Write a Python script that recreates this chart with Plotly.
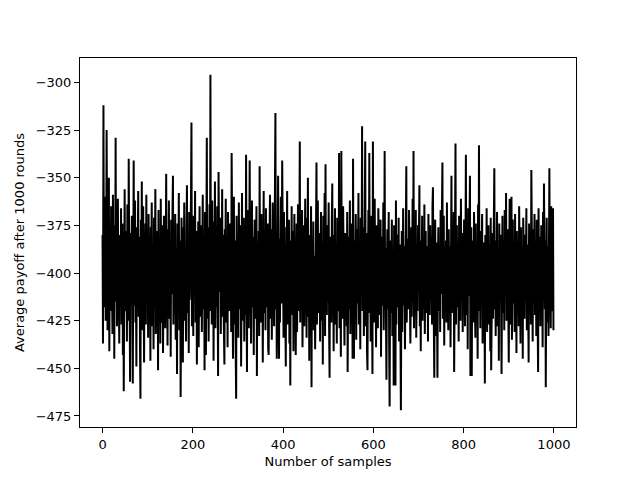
import plotly.graph_objects as go

# Average payoff per sample (approximate)
payoffs = [
    -380, -437, -312, -405, -392, -418, -360, -425, -398, -325, -372, -430, -385, -408, -350, -441, -396, -377, -420, -365,
    -402, -388, -432, -359, -410, -375, -445, -383, -398, -329, -415, -370, -428, -393, -361, -419, -404, -437, -380, -399,
    -412, -366, -427, -390, -374, -443, -401, -462, -385, -356, -420, -395, -409, -378, -436, -364, -400, -425, -340, -388,
    -414, -457, -379, -405, -393, -370, -431, -458, -398, -341, -417, -384, -362, -426, -402, -449, -376, -411, -390, -357,
    -423, -397, -381, -439, -466, -372, -408, -352, -430, -394, -365, -418, -447, -386, -401, -374, -427, -359, -412, -392,
    -380, -434, -369, -405, -421, -388, -446, -376, -399, -363, -428, -410, -385, -440, -371, -417, -395, -356, -432, -404,
    -378, -413, -389, -451, -367, -422, -400, -383, -437, -361, -409, -394, -426, -375, -442, -398, -370, -415, -386, -429,
    -403, -348, -419, -391, -438, -377, -406, -362, -424, -397, -384, -444, -372, -411, -399, -366, -349, -427, -393, -380,
    -416, -369, -435, -401, -387, -453, -374, -420, -396, -358, -430, -408, -383, -465, -391, -371, -418, -402, -447, -376,
    -399, -363, -425, -388, -412, -436, -379, -354, -421, -405, -390, -442, -368, -414, -397, -381, -360, -321, -428, -406,
    -384, -433, -370, -409, -395, -357, -426, -400, -378, -448, -392, -417, -373, -439, -402, -365, -423, -389, -411, -375,
    -431, -396, -359, -419, -404, -382, -451, -368, -413, -443, -387, -329, -424, -399, -376, -436, -408, -364, -420, -296,
    -405, -381, -427, -362, -414, -390, -446, -373, -401, -352, -429, -394, -378, -418, -365, -438, -454, -347, -386, -410,
    -399, -371, -432, -389, -407, -356, -423, -380, -415, -444, -448, -377, -402, -361, -426, -393, -384, -439, -368, -411,
    -397, -420, -374, -404, -388, -431, -337, -412, -379, -445, -395, -360, -427, -406, -383, -441, -466, -370, -416, -398,
    -385, -434, -363, -408, -392, -419, -375, -449, -401, -358, -425, -388, -412, -371, -436, -397, -380, -422, -338, -404,
    -452, -367, -415, -390, -429, -376, -341, -403, -386, -437, -399, -362, -418, -408, -381, -443, -393, -372, -424, -396,
    -410, -365, -454, -387, -420, -400, -378, -433, -344, -414, -391, -426, -369, -405, -384, -447, -398, -357, -421, -395,
    -380, -430, -366, -411, -393, -418, -374, -440, -443, -402, -388, -359, -424, -406, -377, -435, -396, -363, -413, -389,
    -428, -401, -371, -316, -419, -385, -445, -397, -367, -349, -410, -445, -382, -426, -398, -360, -416, -392, -341, -405,
    -379, -434, -368, -412, -394, -421, -449, -376, -403, -357, -427, -390, -414, -372, -437, -399, -459, -383, -409, -365,
    -422, -396, -378, -441, -401, -369, -418, -386, -443, -407, -374, -431, -392, -364, -420, -403, -384, -331, -426, -397,
    -381, -413, -367, -439, -395, -409, -375, -428, -400, -361, -417, -389, -434, -371, -406, -350, -423, -392, -446, -380,
    -411, -398, -365, -460, -384, -419, -402, -373, -430, -391, -408, -440, -377, -415, -342, -427, -396, -362, -421, -388,
    -404, -379, -436, -393, -368, -425, -401, -384, -448, -370, -412, -397, -358, -433, -343, -409, -387, -422, -375, -415,
    -399, -363, -430, -455, -381, -406, -392, -426, -372, -353, -418, -395, -441, -380, -410, -366, -427, -401, -386, -437,
    -371, -413, -397, -420, -337, -429, -390, -407, -444, -336, -398, -375, -424, -365, -411, -386, -438, -402, -379, -417,
    -393, -428, -368, -452, -405, -381, -419, -396, -362, -432, -400, -374, -414, -389, -445, -340, -410, -445, -383, -421,
    -398, -369, -435, -404, -377, -416, -392, -358, -427, -408, -383, -440, -371, -412, -395, -323, -420, -400, -376, -433,
    -389, -414, -331, -428, -402, -379, -442, -451, -396, -367, -421, -337, -407, -385, -436, -393, -370, -418, -453, -331,
    -404, -380, -426, -361, -411, -397, -439, -375, -415, -390, -429, -366, -403, -385, -422, -400, -372, -444, -394, -408,
    -381, -417, -363, -430, -398, -336, -412, -387, -425, -456, -402, -377, -419, -395, -368, -437, -470, -410, -383, -421,
    -396, -372, -433, -406, -388, -459, -375, -414, -401, -459, -362, -427, -393, -380, -418, -407, -371, -436, -399, -385,
    -424, -472, -410, -378, -431, -395, -366, -417, -403, -386, -440, -373, -412, -344, -426, -391, -405, -382, -419, -367,
    -401, -388, -437, -412, -376, -423, -398, -361, -415, -336, -429, -394, -381, -410, -367, -434, -402, -386, -420, -375,
    -407, -392, -354, -428, -396, -441, -383, -413, -370, -425, -399, -385, -418, -364, -432, -404, -378, -421, -393, -411,
    -386, -436, -369, -408, -397, -422, -375, -414, -400, -381, -427, -365, -355, -403, -419, -455, -390, -372, -433, -409,
    -384, -416, -455, -398, -376, -420, -402, -388, -431, -367, -411, -395, -380, -342, -424, -405, -370, -438, -391, -414,
    -399, -383, -426, -363, -409, -394, -430, -377, -417, -401, -386, -439, -372, -349, -421, -396, -380, -412, -368, -452,
    -405, -389, -332, -427, -398, -375, -418, -403, -384, -436, -370, -410, -393, -425, -361, -414, -400, -379, -431, -387,
    -416, -372, -404, -428, -390, -338, -422, -397, -381, -440, -366, -412, -399, -385, -349, -454, -407, -376, -454, -393,
    -419, -383, -426, -368, -410, -396, -434, -374, -415, -401, -387, -445, -364, -420, -333, -405, -391, -429, -378, -412,
    -398, -369, -437, -408, -384, -423, -395, -458, -380, -413, -402, -366, -431, -389, -418, -375, -427, -400, -385, -441,
    -371, -451, -410, -394, -379, -424, -405, -362, -345, -419, -397, -433, -383, -411, -368, -428, -401, -387, -446, -374,
    -415, -392, -380, -439, -453, -408, -370, -421, -396, -383, -430, -367, -412, -399, -358, -425, -388, -404, -377, -418,
    -447, -394, -361, -427, -409, -381, -360, -435, -398, -372, -416, -402, -386, -431, -369, -410, -395, -442, -378, -421,
    -400, -384, -428, -365, -413, -397, -437, -376, -419, -403, -389, -445, -371, -408, -393, -424, -380, -414, -399, -366,
    -430, -406, -385, -418, -447, -374, -411, -396, -382, -427, -346, -403, -390, -436, -377, -415, -400, -369, -422, -408,
    -386, -433, -372, -417, -398, -452, -366, -412, -394, -381, -428, -404, -375, -421, -390, -439, -368, -410, -353, -395,
    -419, -383, -460, -407, -371, -426, -398, -386, -433, -376, -345, -414, -400, -429, -365, -411, -392, -420, -366, -430,
]
samples = list(range(len(payoffs)))

x_ticks = [0, 200, 400, 600, 800, 1000]
y_ticks = [-475, -450, -425, -400, -375, -350, -325, -300]


def minus(v):
    # matplotlib style unicode minus
    return f"\u2212{abs(v)}" if v < 0 else str(v)


# 5% padding like matplotlib autoscale
x_pad = (samples[-1] - samples[0]) * 0.05
y_lo, y_hi = min(payoffs), max(payoffs)
y_pad = (y_hi - y_lo) * 0.05

fig = go.Figure(go.Scatter(
    x=samples,
    y=payoffs,
    mode='lines',
    line=dict(color='black', width=2),
    hoverinfo='skip'
))

axis_style = dict(
    showgrid=False,
    zeroline=False,
    showline=True,
    mirror=True,
    linecolor='black',
    linewidth=1,
    ticks='outside',
    ticklen=5,
    tickwidth=1,
    tickcolor='black',
    tickfont=dict(family='DejaVu Sans', size=13, color='black'),
)

# page body has an 8px margin, so offsets are shifted to land the frame
# where the reference has it (80..576 x 58..427)
fig.update_layout(
    width=640,
    height=480,
    margin=dict(l=72, r=72, t=50, b=61),
    paper_bgcolor='white',
    plot_bgcolor='white',
    showlegend=False,
    font=dict(family='DejaVu Sans', size=13, color='black'),
    xaxis=dict(
        axis_style,
        range=[samples[0] - x_pad, samples[-1] + x_pad],
        tickvals=x_ticks,
        ticktext=[minus(v) for v in x_ticks],
        title=dict(text='Number of samples', standoff=6,
                   font=dict(family='DejaVu Sans', size=13)),
    ),
    yaxis=dict(
        axis_style,
        range=[y_lo - y_pad, y_hi + y_pad],
        tickvals=y_ticks,
        ticktext=[minus(v) for v in y_ticks],
        title=dict(text='Average payoff after 1000 rounds', standoff=8,
                   font=dict(family='DejaVu Sans', size=13)),
    ),
)

fig.write_html("out.html")
